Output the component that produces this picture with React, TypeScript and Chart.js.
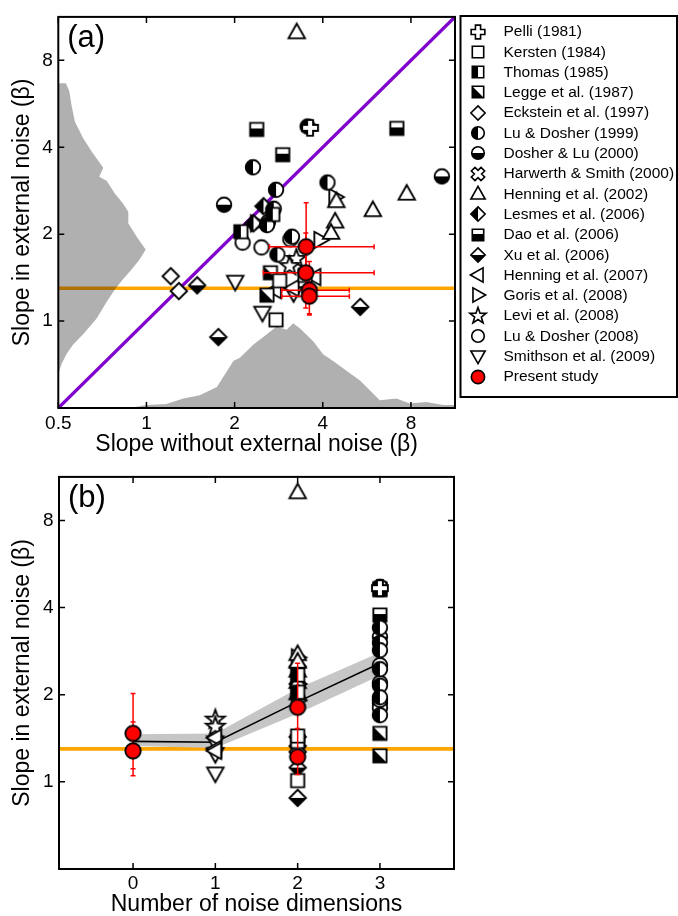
import React, { useEffect, useRef } from 'react';
import { Chart, registerables } from 'chart.js';

Chart.register(...registerables);

const FONT = '"Liberation Sans", Arial, Helvetica, sans-serif';
Chart.defaults.font.family = FONT;
Chart.defaults.color = '#000';

// ---------- axes ----------
const slopeAxisMin = 0.5;
const slopeAxisMax = 11.3137;
const noNoiseTicks = [0.5, 1, 2, 4, 8];
const noiseTicks = [1, 2, 4, 8];
const dimensionTicks = [0, 1, 2, 3];
const dimensionAxisMin = -0.9;
const dimensionAxisMax = 3.9;
const unitySlope = [0.5, 11.3137];
const referenceNoiseSlope = 1.3;

// ---------- studies (slope without noise, slope in noise) ----------
const pelliNoNoise = [3.62];
const pelliNoise = [4.67];
const kerstenNoNoise = [2.77, 2.85, 3.48];
const kerstenNoise = [1.01, 1.38, 1.44];
const thomasNoNoise = [2.1, 2.7];
const thomasNoise = [2.04, 2.34];
const leggeNoNoise = [2.65, 2.58];
const leggeNoise = [1.47, 1.23];
const ecksteinNoNoise = [1.21, 1.29];
const ecksteinNoise = [1.43, 1.27];
const luDosher1999NoNoise = [3.55, 2.31, 4.15, 2.77, 2.72, 2.58, 3.14, 2.8];
const luDosher1999Noise = [4.72, 3.41, 3.02, 2.85, 2.45, 2.15, 1.96, 1.7];
const dosherLu2000NoNoise = [10.2, 1.84];
const dosherLu2000Noise = [3.17, 2.53];
const harwerthNoNoise: number[] = [];
const harwerthNoise: number[] = [];
const henning2002NoNoise = [3.26, 7.74, 5.93, 4.45, 4.41, 4.27];
const henning2002Noise = [10.0, 2.76, 2.42, 2.6, 2.21, 2.02];
const lesmesNoNoise = [2.51, 2.32];
const lesmesNoise = [2.5, 2.18];
const daoNoNoise = [2.38, 7.16, 2.92];
const daoNoise = [4.61, 4.65, 3.77];
const xuNoNoise = [1.49, 1.76, 5.37];
const xuNoise = [1.33, 0.88, 1.12];
const henning2007NoNoise = [3.75, 3.16, 2.75];
const henning2007Noise = [1.42, 1.3, 1.28];
const gorisNoNoise = [4.41, 3.92, 2.38];
const gorisNoise = [2.69, 1.91, 2.18];
const leviNoNoise = [3.25, 3.08];
const leviNoise = [1.64, 1.55];
const luDosher2008NoNoise = [2.13, 2.47, 3.1, 2.6];
const luDosher2008Noise = [1.87, 1.8, 1.92, 2.2];
const smithsonNoNoise = [2.01, 2.49, 3.18];
const smithsonNoise = [1.37, 1.07, 1.25];

const studyLabels = [
  'Pelli (1981)', 'Kersten (1984)', 'Thomas (1985)', 'Legge et al. (1987)', 'Eckstein et al. (1997)',
  'Lu & Dosher (1999)', 'Dosher & Lu (2000)', 'Harwerth & Smith (2000)', 'Henning et al. (2002)',
  'Lesmes et al. (2006)', 'Dao et al. (2006)', 'Xu et al. (2006)', 'Henning et al. (2007)',
  'Goris et al. (2008)', 'Levi et al. (2008)', 'Lu & Dosher (2008)', 'Smithson et al. (2009)',
];
const studyMarkers = [
  'plus', 'square', 'squareLeft', 'squareDiag', 'diamond', 'circleLeft', 'circleBottom', 'xcross',
  'triUp', 'diamondLeft', 'squareBottom', 'diamondBottom', 'triLeft', 'triRight', 'star', 'circle', 'triDown',
];
const studyNoiseDimensions = [3, 2, 2, 3, 2, 3, 3, 3, 2, 2, 3, 2, 1, 2, 1, 3, 1];
const studyNoNoise = [
  pelliNoNoise, kerstenNoNoise, thomasNoNoise, leggeNoNoise, ecksteinNoNoise, luDosher1999NoNoise,
  dosherLu2000NoNoise, harwerthNoNoise, henning2002NoNoise, lesmesNoNoise, daoNoNoise, xuNoNoise,
  henning2007NoNoise, gorisNoNoise, leviNoNoise, luDosher2008NoNoise, smithsonNoNoise,
];
const studyNoise = [
  pelliNoise, kerstenNoise, thomasNoise, leggeNoise, ecksteinNoise, luDosher1999Noise,
  dosherLu2000Noise, harwerthNoise, henning2002Noise, lesmesNoise, daoNoise, xuNoise,
  henning2007Noise, gorisNoise, leviNoise, luDosher2008Noise, smithsonNoise,
];

// ---------- present study ----------
const presentLabel = 'Present study';
const presentNoNoise = [3.51, 3.5, 3.6, 3.6];
const presentNoise = [1.81, 1.47, 1.28, 1.22];
const presentDimensions = [2, 0, 0, 2];
const presentNoNoiseLow = [2.63, 2.51, 2.9, 2.9];
const presentNoNoiseHigh = [5.99, 5.99, 4.93, 4.93];
const presentNoiseLow = [1.53, 1.11, 1.05, 1.06];
const presentNoiseHigh = [2.57, 2.02, 1.61, 1.53];

// ---------- marginal densities (panel a) ----------
const noiseDensitySlope = [6.67, 6.67, 6.27, 5.58, 4.9, 4.3, 3.87, 3.4, 3.16, 3.06, 2.76, 2.55, 2.39, 2.18, 1.96, 1.77, 1.64, 1.51, 1.4, 1.29, 1.165, 1.02, 0.9, 0.83, 0.77, 0.71, 0.656];
const noiseDensityExtent = [0.5, 0.531, 0.545, 0.555, 0.57, 0.608, 0.65, 0.712, 0.69, 0.731, 0.781, 0.833, 0.867, 0.867, 0.926, 0.994, 0.95, 0.89, 0.833, 0.781, 0.731, 0.676, 0.608, 0.562, 0.534, 0.513, 0.5];
const noNoiseDensitySlope = [0.878, 1.0, 1.17, 1.335, 1.52, 1.74, 1.98, 2.085, 2.32, 2.57, 2.78, 3.01, 3.17, 3.34, 3.71, 4.01, 4.34, 4.82, 5.36, 5.79, 6.26, 7.14, 7.93, 9.04, 10.3, 11.3137, 11.3137];
const noNoiseDensityExtent = [0.5, 0.512, 0.516, 0.539, 0.553, 0.591, 0.728, 0.747, 0.83, 0.898, 0.958, 0.933, 0.983, 0.945, 0.852, 0.767, 0.728, 0.673, 0.622, 0.576, 0.532, 0.539, 0.518, 0.525, 0.512, 0.512, 0.5];

// ---------- mean trend (panel b) ----------
const meanDimensions = [0, 1, 2, 3];
const meanSlope = [1.38, 1.37, 1.89, 2.57];
const meanSlopeLow = [1.33, 1.31, 1.72, 2.33];
const meanSlopeHigh = [1.46, 1.47, 2.1, 2.8];

// ---------- marker drawing ----------
const baseShape: Record<string, string> = {
  plus: 'plus', xcross: 'xcross', square: 'square', squareLeft: 'square', squareDiag: 'square',
  squareBottom: 'square', diamond: 'diamond', diamondLeft: 'diamond', diamondBottom: 'diamond',
  circle: 'circle', circleLeft: 'circle', circleBottom: 'circle', red: 'circle', triUp: 'triUp',
  triDown: 'triDown', triLeft: 'triLeft', triRight: 'triRight', star: 'star',
};
const halfFill: Record<string, string> = {
  squareLeft: 'left', squareDiag: 'diag', squareBottom: 'bottomBig', diamondLeft: 'left',
  diamondBottom: 'bottom', circleLeft: 'left', circleBottom: 'bottom',
};

function shapePath(ctx: CanvasRenderingContext2D, base: string, red: boolean) {
  ctx.beginPath();
  const poly = (pts: number[][]) => {
    ctx.moveTo(pts[0][0], pts[0][1]);
    for (let i = 1; i < pts.length; i++) ctx.lineTo(pts[i][0], pts[i][1]);
    ctx.closePath();
  };
  switch (base) {
    case 'circle': ctx.arc(0, 0, red ? 7 : 6.6, 0, Math.PI * 2); break;
    case 'square': ctx.rect(-6, -6, 12, 12); break;
    case 'diamond': poly([[0, -7.5], [7.5, 0], [0, 7.5], [-7.5, 0]]); break;
    case 'triUp': poly([[0, -8], [7.5, 5.3], [-7.5, 5.3]]); break;
    case 'triDown': poly([[0, 8], [7.5, -5.3], [-7.5, -5.3]]); break;
    case 'triLeft': poly([[-8, 0], [5.3, -7.5], [5.3, 7.5]]); break;
    case 'triRight': poly([[8, 0], [-5.3, -7.5], [-5.3, 7.5]]); break;
    case 'star': {
      const pts: number[][] = [];
      for (let i = 0; i < 10; i++) {
        const r = i % 2 === 0 ? 9 : 3.7;
        const a = -Math.PI / 2 + (i * Math.PI) / 5;
        pts.push([r * Math.cos(a), r * Math.sin(a)]);
      }
      poly(pts);
      break;
    }
    default: {
      const a = 2.7, L = 7.2;
      let pts = [[-a, -L], [a, -L], [a, -a], [L, -a], [L, a], [a, a], [a, L], [-a, L], [-a, a], [-L, a], [-L, -a], [-a, -a]];
      if (base === 'xcross') {
        const c = Math.SQRT1_2;
        pts = pts.map(([x, y]) => [c * (x - y), c * (x + y)]);
      }
      poly(pts);
    }
  }
}

function makeMarker(kind: string, scale: number): HTMLCanvasElement {
  const size = Math.ceil((24 * scale) / 2) * 2;
  const cv = document.createElement('canvas');
  cv.width = size;
  cv.height = size;
  const ctx = cv.getContext('2d') as CanvasRenderingContext2D;
  ctx.translate(size / 2, size / 2);
  ctx.scale(scale, scale);
  const base = baseShape[kind];
  const red = kind === 'red';
  shapePath(ctx, base, red);
  ctx.fillStyle = red ? '#ff0000' : '#ffffff';
  ctx.fill();
  const half = halfFill[kind];
  if (half) {
    ctx.save();
    ctx.beginPath();
    if (half === 'left') ctx.rect(-20, -20, 20, 40);
    else if (half === 'bottom') ctx.rect(-20, 0, 40, 20);
    else if (half === 'bottomBig') ctx.rect(-20, -1, 40, 21);
    else { ctx.moveTo(-20, -20); ctx.lineTo(20, 20); ctx.lineTo(-20, 20); ctx.closePath(); }
    ctx.clip();
    shapePath(ctx, base, red);
    ctx.fillStyle = '#000';
    ctx.fill();
    ctx.restore();
  }
  shapePath(ctx, base, red);
  ctx.lineWidth = 1.7;
  ctx.lineJoin = 'miter';
  ctx.strokeStyle = '#000';
  ctx.stroke();
  return cv;
}

// ---------- plugins ----------
const framePlugin = {
  id: 'frameTicks',
  afterDatasetsDraw(chart: any) {
    const { ctx, chartArea: a, scales } = chart;
    ctx.save();
    ctx.strokeStyle = '#000';
    ctx.lineWidth = 1.5;
    const t = 6;
    ctx.beginPath();
    scales.x.ticks.forEach((tk: any) => {
      const p = scales.x.getPixelForValue(tk.value);
      ctx.moveTo(p, a.bottom); ctx.lineTo(p, a.bottom - t);
      ctx.moveTo(p, a.top); ctx.lineTo(p, a.top + t);
    });
    scales.y.ticks.forEach((tk: any) => {
      const p = scales.y.getPixelForValue(tk.value);
      ctx.moveTo(a.left, p); ctx.lineTo(a.left + t, p);
      ctx.moveTo(a.right, p); ctx.lineTo(a.right - t, p);
    });
    ctx.stroke();
    ctx.lineWidth = 2;
    ctx.strokeRect(a.left, a.top, a.right - a.left, a.bottom - a.top);
    ctx.restore();
  },
};

const panelLabelPlugin = {
  id: 'panelLabel',
  afterDraw(chart: any, _args: any, opts: any) {
    const { ctx, chartArea: a } = chart;
    ctx.save();
    ctx.font = `31px ${FONT}`;
    ctx.fillStyle = '#000';
    ctx.textBaseline = 'alphabetic';
    ctx.textAlign = 'left';
    ctx.fillText(opts.text, a.left + 9, a.top + 30.5);
    ctx.restore();
  },
};

function makeErrorBarPlugin(xLow: number[] | null, xHigh: number[] | null, yLow: number[], yHigh: number[]) {
  return {
    id: 'errorBars',
    beforeDatasetDraw(chart: any, args: any) {
      const ds = chart.data.datasets[args.index];
      if (ds.label !== presentLabel) return;
      const { ctx, scales } = chart;
      const cap = 2.5;
      ctx.save();
      ctx.strokeStyle = '#ff0000';
      ctx.lineWidth = 1.5;
      ctx.beginPath();
      ds.data.forEach((d: any, i: number) => {
        const px = scales.x.getPixelForValue(d.x);
        const py = scales.y.getPixelForValue(d.y);
        const y1 = scales.y.getPixelForValue(yLow[i]);
        const y2 = scales.y.getPixelForValue(yHigh[i]);
        ctx.moveTo(px, y1); ctx.lineTo(px, y2);
        ctx.moveTo(px - cap, y1); ctx.lineTo(px + cap, y1);
        ctx.moveTo(px - cap, y2); ctx.lineTo(px + cap, y2);
        if (xLow && xHigh) {
          const x1 = scales.x.getPixelForValue(xLow[i]);
          const x2 = scales.x.getPixelForValue(xHigh[i]);
          ctx.moveTo(x1, py); ctx.lineTo(x2, py);
          ctx.moveTo(x1, py - cap); ctx.lineTo(x1, py + cap);
          ctx.moveTo(x2, py - cap); ctx.lineTo(x2, py + cap);
        }
      });
      ctx.stroke();
      ctx.restore();
    },
  };
}

function fixedTicks(values: number[]) {
  return (scale: any) => {
    scale.ticks = values.map((v) => ({ value: v }));
  };
}

const tickFont = { size: 19 };
const titleFont = { size: 23 };

export default function App() {
  const refA = useRef<HTMLCanvasElement>(null);
  const refB = useRef<HTMLCanvasElement>(null);

  useEffect(() => {
    const kinds = [...studyMarkers, 'red'];
    const plotMarkers: Record<string, HTMLCanvasElement> = {};
    const legendMarkers: Record<string, HTMLCanvasElement> = {};
    kinds.forEach((k) => {
      plotMarkers[k] = makeMarker(k, 1.1);
      legendMarkers[k] = makeMarker(k, 0.95);
    });

    const legendPlugin = {
      id: 'studyLegend',
      afterDraw(chart: any) {
        const { ctx, chartArea: a } = chart;
        const left = a.right + 5.5;
        const top = 16;
        ctx.save();
        ctx.lineWidth = 2;
        ctx.strokeStyle = '#000';
        ctx.strokeRect(left, top, 677 - left, 381);
        ctx.font = `15.5px ${FONT}`;
        ctx.fillStyle = '#000';
        ctx.textBaseline = 'middle';
        ctx.textAlign = 'left';
        const labels = [...studyLabels, presentLabel];
        const marks = [...studyMarkers, 'red'];
        labels.forEach((lab, i) => {
          const y = 31.5 + i * 20.3;
          const m = legendMarkers[marks[i]];
          ctx.drawImage(m, Math.round(left + 17 - m.width / 2), Math.round(y - m.height / 2));
          ctx.fillText(lab, left + 43, y + 0.5);
        });
        ctx.restore();
      },
    };

    const markerSet = (label: string, xs: number[], ys: number[], kind: string, order: number) => ({
      type: 'scatter',
      label,
      data: xs.map((x, i) => ({ x, y: ys[i] })),
      pointStyle: plotMarkers[kind],
      pointRadius: 7,
      pointHoverRadius: 7,
      showLine: false,
      order,
    });

    // ---------- panel (a) ----------
    const datasetsA: any[] = [markerSet(presentLabel, presentNoNoise, presentNoise, 'red', 0)];
    studyLabels.forEach((lab, i) => {
      datasetsA.push(markerSet(lab, studyNoNoise[i], studyNoise[i], studyMarkers[i], 1));
    });
    datasetsA.push({
      type: 'line', label: 'noise density',
      data: noiseDensityExtent.map((x, i) => ({ x, y: noiseDensitySlope[i] })),
      fill: 'shape', backgroundColor: 'rgba(0,0,0,0.31)', borderColor: 'rgba(0,0,0,0)', borderWidth: 0,
      pointRadius: 0, tension: 0, order: 5,
    });
    datasetsA.push({
      type: 'line', label: 'no-noise density',
      data: noNoiseDensitySlope.map((x, i) => ({ x, y: noNoiseDensityExtent[i] })),
      fill: 'shape', backgroundColor: 'rgba(0,0,0,0.31)', borderColor: 'rgba(0,0,0,0)', borderWidth: 0,
      pointRadius: 0, tension: 0, order: 5,
    });
    datasetsA.push({
      type: 'line', label: 'unity',
      data: unitySlope.map((v) => ({ x: v, y: v })),
      borderColor: '#8000cc', borderWidth: 3.3, pointRadius: 0, fill: false, order: 6,
    });
    datasetsA.push({
      type: 'line', label: 'reference',
      data: [{ x: slopeAxisMin, y: referenceNoiseSlope }, { x: slopeAxisMax, y: referenceNoiseSlope }],
      borderColor: '#ffa500', borderWidth: 3.6, pointRadius: 0, fill: false, order: 7,
    });

    const chartA = new Chart(refA.current as HTMLCanvasElement, {
      type: 'scatter',
      data: { datasets: datasetsA },
      options: {
        animation: false,
        responsive: false,
        events: [],
        layout: { padding: { left: 0, right: 223, top: 12, bottom: 0 } },
        plugins: {
          legend: { display: false },
          tooltip: { enabled: false },
          panelLabel: { text: '(a)' },
        } as any,
        scales: {
          x: {
            type: 'logarithmic', min: slopeAxisMin, max: slopeAxisMax,
            afterBuildTicks: fixedTicks(noNoiseTicks),
            afterFit: (s: any) => { s.height = 52; },
            grid: { display: false, drawTicks: false },
            border: { display: false },
            ticks: { callback: (v: any) => String(v), font: tickFont, color: '#000', padding: 4, maxRotation: 0, minRotation: 0, autoSkip: false },
            title: { display: true, text: 'Slope without external noise (β)', font: titleFont, color: '#000', padding: { top: 0, bottom: 1.2 } },
          },
          y: {
            type: 'logarithmic', min: slopeAxisMin, max: slopeAxisMax,
            afterBuildTicks: fixedTicks(noiseTicks),
            afterFit: (s: any) => { s.width = 58.3; },
            grid: { display: false, drawTicks: false },
            border: { display: false },
            ticks: { callback: (v: any) => String(v), font: tickFont, color: '#000', padding: 5.5, autoSkip: false },
            title: { display: true, text: 'Slope in external noise (β)', font: titleFont, color: '#000', padding: { top: 9.2, bottom: 0 } },
          },
        } as any,
      },
      plugins: [
        framePlugin, panelLabelPlugin, legendPlugin,
        makeErrorBarPlugin(presentNoNoiseLow, presentNoNoiseHigh, presentNoiseLow, presentNoiseHigh),
      ],
    } as any);

    // ---------- panel (b) ----------
    const datasetsB: any[] = [markerSet(presentLabel, presentDimensions, presentNoise, 'red', 0)];
    studyLabels.forEach((lab, i) => {
      datasetsB.push(markerSet(lab, studyNoise[i].map(() => studyNoiseDimensions[i]), studyNoise[i], studyMarkers[i], 1));
    });
    datasetsB.push({
      type: 'line', label: 'mean',
      data: meanDimensions.map((x, i) => ({ x, y: meanSlope[i] })),
      borderColor: '#000', borderWidth: 1.6, pointRadius: 0, fill: false, order: 2,
    });
    datasetsB.push({
      type: 'line', label: 'mean band',
      data: [
        ...meanDimensions.map((x, i) => ({ x, y: meanSlopeHigh[i] })),
        ...meanDimensions.map((x, i) => ({ x, y: meanSlopeLow[i] })).reverse(),
      ],
      fill: 'shape', backgroundColor: '#c6c6c6', borderColor: 'rgba(0,0,0,0)', borderWidth: 0,
      pointRadius: 0, tension: 0, order: 3,
    });
    datasetsB.push({
      type: 'line', label: 'reference',
      data: [{ x: dimensionAxisMin, y: referenceNoiseSlope }, { x: dimensionAxisMax, y: referenceNoiseSlope }],
      borderColor: '#ffa500', borderWidth: 3.6, pointRadius: 0, fill: false, order: 7,
    });

    const chartB = new Chart(refB.current as HTMLCanvasElement, {
      type: 'scatter',
      data: { datasets: datasetsB },
      options: {
        animation: false,
        responsive: false,
        events: [],
        layout: { padding: { left: 0, right: 224, top: 15, bottom: 0 } },
        plugins: {
          legend: { display: false },
          tooltip: { enabled: false },
          panelLabel: { text: '(b)' },
        } as any,
        scales: {
          x: {
            type: 'linear', min: dimensionAxisMin, max: dimensionAxisMax,
            afterBuildTicks: fixedTicks(dimensionTicks),
            afterFit: (s: any) => { s.height = 47; },
            grid: { display: false, drawTicks: false },
            border: { display: false },
            ticks: { callback: (v: any) => String(v), font: tickFont, color: '#000', padding: 3, maxRotation: 0, minRotation: 0, autoSkip: false },
            title: { display: true, text: 'Number of noise dimensions', font: { size: 23, lineHeight: 1 }, color: '#000', padding: { top: 0, bottom: 0 } },
          },
          y: {
            type: 'logarithmic', min: slopeAxisMin, max: slopeAxisMax,
            afterBuildTicks: fixedTicks(noiseTicks),
            afterFit: (s: any) => { s.width = 59; },
            grid: { display: false, drawTicks: false },
            border: { display: false },
            ticks: { callback: (v: any) => String(v), font: tickFont, color: '#000', padding: 5.5, autoSkip: false },
            title: { display: true, text: 'Slope in external noise (β)', font: titleFont, color: '#000', padding: { top: 9.2, bottom: 0 } },
          },
        } as any,
      },
      plugins: [framePlugin, panelLabelPlugin, makeErrorBarPlugin(null, null, presentNoiseLow, presentNoiseHigh)],
    } as any);

    return () => {
      chartA.destroy();
      chartB.destroy();
    };
  }, []);

  return (
    <div style={{ position: 'absolute', left: 0, top: 0, width: 678, height: 916, background: '#ffffff' }}>
      <canvas ref={refA} width={678} height={460} style={{ display: 'block', width: 678, height: 460 }} />
      <canvas ref={refB} width={678} height={456} style={{ display: 'block', width: 678, height: 456 }} />
    </div>
  );
}
